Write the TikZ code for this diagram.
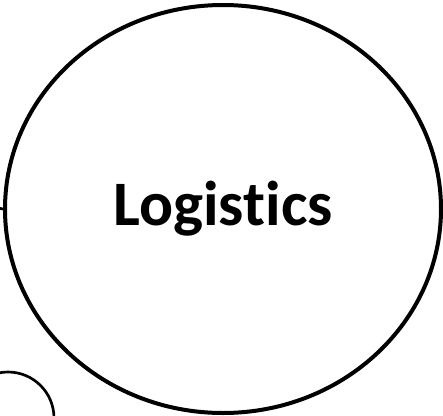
\documentclass[tikz,border=0pt]{standalone}
\usepackage{fontspec}
\setmainfont{Carlito}[Ligatures=NoCommon]
\usetikzlibrary{positioning,shapes.geometric}

\begin{document}
\begin{tikzpicture}[x=0.75pt,y=-0.75pt,
  bubble/.style={draw,ellipse,inner sep=0pt,line width=3pt},
  smallbubble/.style={draw,circle,inner sep=0pt,line width=2pt}]
  \useasboundingbox (0,0) rectangle (443,415);
  \clip (0,0) rectangle (443,415);
  \node[bubble,minimum width=436*0.75pt,minimum height=408*0.75pt] (logistics) at (223,209)
    {\fontsize{47.5}{56}\selectfont\bfseries Logistics\vphantom{L}};
  \node[smallbubble,minimum size=92*0.75pt] (corner) at (8,418) {};
  \coordinate (stub) at (-2,208);
  \draw[line width=2pt] (stub) -- (logistics.west);
\end{tikzpicture}
\end{document}
